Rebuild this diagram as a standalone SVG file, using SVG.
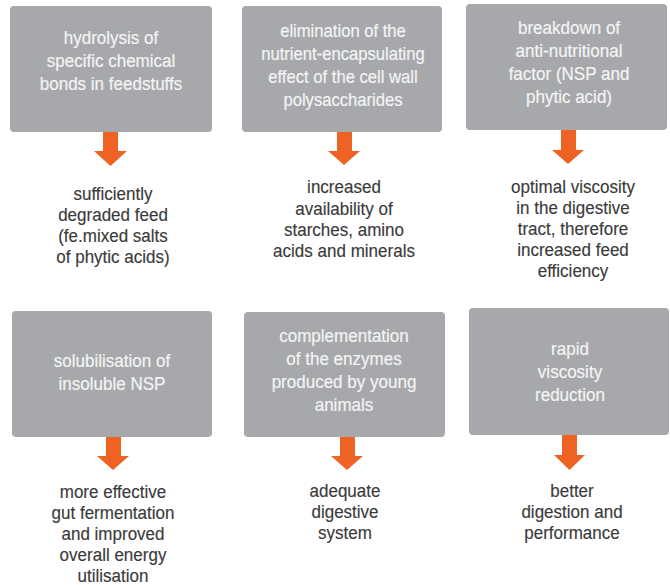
<svg xmlns="http://www.w3.org/2000/svg" width="670" height="585" viewBox="0 0 670 585">
<style>
.box{fill:#A6A8AB}
.bt{font-family:"Liberation Sans",Arial,sans-serif;font-size:18.5px;fill:#F4F4F4;text-anchor:middle;stroke:#F4F4F4;stroke-width:0.2}
.ot{font-family:"Liberation Sans",Arial,sans-serif;font-size:18.5px;fill:#3A3A3A;text-anchor:middle;stroke:#3A3A3A;stroke-width:0.15}
.arr{fill:#EE6223}
</style>
<rect width="670" height="585" fill="#FFFFFF"/>
<g id="n1">
<rect class="box" x="10" y="6" width="202" height="126" rx="4"/>
<text class="bt" transform="translate(111 0) scale(0.92 1)"><tspan x="0" y="44">hydrolysis of</tspan><tspan x="0" y="67">specific chemical</tspan><tspan x="0" y="90">bonds in feedstuffs</tspan></text>
</g>
<g id="n2">
<rect class="box" x="242" y="6" width="200" height="126" rx="4"/>
<text class="bt" transform="translate(343 0) scale(0.9 1)"><tspan x="0" y="37">elimination of the</tspan><tspan x="0" y="60">nutrient-encapsulating</tspan><tspan x="0" y="83">effect of the cell wall</tspan><tspan x="0" y="106">polysaccharides</tspan></text>
</g>
<g id="n3">
<rect class="box" x="466" y="4" width="201" height="126" rx="4"/>
<text class="bt" transform="translate(569 0) scale(0.92 1)"><tspan x="0" y="34">breakdown of</tspan><tspan x="0" y="57">anti-nutritional</tspan><tspan x="0" y="80">factor (NSP and</tspan><tspan x="0" y="103">phytic acid)</tspan></text>
</g>
<g id="n4">
<rect class="box" x="12" y="311" width="200" height="126" rx="4"/>
<text class="bt" transform="translate(112 0) scale(0.92 1)"><tspan x="0" y="367">solubilisation of</tspan><tspan x="0" y="390">insoluble NSP</tspan></text>
</g>
<g id="n5">
<rect class="box" x="244" y="312" width="201" height="125" rx="4"/>
<text class="bt" transform="translate(344 0) scale(0.92 1)"><tspan x="0" y="342">complementation</tspan><tspan x="0" y="365">of the enzymes</tspan><tspan x="0" y="388">produced by young</tspan><tspan x="0" y="411">animals</tspan></text>
</g>
<g id="n6">
<rect class="box" x="469" y="308" width="200" height="127" rx="4"/>
<text class="bt" transform="translate(570 0) scale(0.92 1)"><tspan x="0" y="355">rapid</tspan><tspan x="0" y="378">viscosity</tspan><tspan x="0" y="401">reduction</tspan></text>
</g>
<g id="o1"><text class="ot" transform="translate(113 0) scale(0.92 1)"><tspan x="0" y="200">sufficiently</tspan><tspan x="0" y="221">degraded feed</tspan><tspan x="0" y="242">(fe.mixed salts</tspan><tspan x="0" y="263">of phytic acids)</tspan></text></g>
<g id="o2"><text class="ot" transform="translate(344 0) scale(0.92 1)"><tspan x="0" y="193">increased</tspan><tspan x="0" y="215">availability of</tspan><tspan x="0" y="236">starches, amino</tspan><tspan x="0" y="257">acids and minerals</tspan></text></g>
<g id="o3"><text class="ot" transform="translate(573 0) scale(0.92 1)"><tspan x="0" y="193">optimal viscosity</tspan><tspan x="0" y="214">in the digestive</tspan><tspan x="0" y="235">tract, therefore</tspan><tspan x="0" y="256">increased feed</tspan><tspan x="0" y="277">efficiency</tspan></text></g>
<g id="o4"><text class="ot" transform="translate(113 0) scale(0.92 1)"><tspan x="0" y="498">more effective</tspan><tspan x="0" y="519">gut fermentation</tspan><tspan x="0" y="540">and improved</tspan><tspan x="0" y="561">overall energy</tspan><tspan x="0" y="582">utilisation</tspan></text></g>
<g id="o5"><text class="ot" transform="translate(345 0) scale(0.92 1)"><tspan x="0" y="497">adequate</tspan><tspan x="0" y="518">digestive</tspan><tspan x="0" y="539">system</tspan></text></g>
<g id="o6"><text class="ot" transform="translate(572 0) scale(0.92 1)"><tspan x="0" y="497">better</tspan><tspan x="0" y="518">digestion and</tspan><tspan x="0" y="539">performance</tspan></text></g>
<g id="connectors">
<path class="arr" d="M103 132 H118 V151 H127 L110.5 166 L94 151 H103 Z"/>
<path class="arr" d="M337 132 H352 V151 H360 L344 165 L328 151 H337 Z"/>
<path class="arr" d="M561 130 H576 V150 H584 L568 164 L552 150 H561 Z"/>
<path class="arr" d="M106 437 H121 V456 H129 L113 470 L97 456 H106 Z"/>
<path class="arr" d="M340 437 H355 V456 H363 L347 470 L331 456 H340 Z"/>
<path class="arr" d="M562 435 H577 V455 H585 L569.5 470 L554 455 H562 Z"/>
</g>
</svg>
